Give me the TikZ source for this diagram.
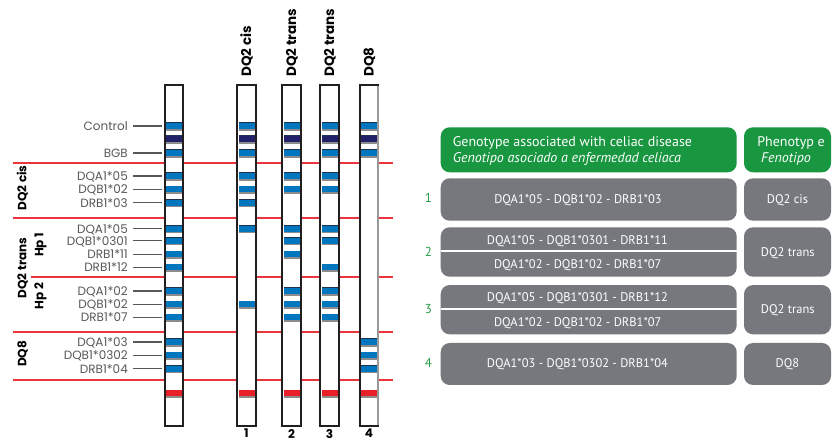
\documentclass[tikz,border=0pt]{standalone}
\usepackage{fontspec}
\setmainfont{Poppins}
\newfontfamily\boxfont{PT Sans}
\definecolor{bandblue}{RGB}{0,118,190}
\definecolor{bandnavy}{RGB}{34,32,104}
\definecolor{bandred}{RGB}{232,32,40}
\definecolor{bandedge}{RGB}{140,140,140}
\definecolor{bandtop}{RGB}{30,50,80}
\definecolor{sepred}{RGB}{236,52,62}
\definecolor{labgray}{RGB}{88,88,88}
\definecolor{headgreen}{RGB}{24,150,64}
\definecolor{numgreen}{RGB}{40,158,72}
\definecolor{boxgray}{RGB}{118,120,126}
\definecolor{stripline}{RGB}{35,31,32}
\tikzset{
  pics/band/.style={code={
    \fill[bandedge] (-8,-3.7) rectangle (8,4.6);
    \fill[bandtop] (-8,-3.7) rectangle (8,-2.6);
    \fill[#1] (-8,-2.8) rectangle (8,3.2);
  }},
  stripbody/.style={fill=white, draw=none, minimum width=18pt, minimum height=341pt, inner sep=0},
  stripframe/.style={draw=stripline, line width=2pt},
  lbl/.style={anchor=east, inner sep=0, text height=9pt, text depth=0pt,
    text=labgray, font=\fontsize{12}{14}\selectfont},
  leader/.style={draw=labgray, line width=1.1pt},
  sep/.style={draw=sepred, line width=1.5pt},
  colhead/.style={anchor=west, rotate=90, inner sep=0, text height=9pt, text depth=0pt,
    font=\fontsize{13.5}{15}\selectfont\bfseries, text=black},
  grouphead/.style={anchor=center, rotate=90, inner sep=0, text height=8.5pt, text depth=0pt,
    font=\fontsize{12}{13}\selectfont\bfseries, text=black},
  lanenum/.style={anchor=north, inner sep=0, font=\fontsize{12}{14}\selectfont\bfseries},
  greenbox/.style={fill=headgreen, rounded corners=9pt, inner sep=0},
  graybox/.style={fill=boxgray, rounded corners=9pt, inner sep=0},
  boxtxt/.style={inner sep=0, text height=9pt, text depth=0pt, text=white,
    font=\boxfont\fontsize{12.5}{15}\selectfont},
  headtxt/.style={inner sep=0, text=white, font=\boxfont\fontsize{14}{16}\selectfont},
  rownum/.style={inner sep=0, text height=9pt, text depth=0pt, text=numgreen,
    font=\boxfont\fontsize{13}{15}\selectfont},
  splitline/.style={draw=white, line width=2pt},
}
\begin{document}
\begin{tikzpicture}[x=1pt,y=-1pt]
\clip (0,0) rectangle (833,443);
\fill[white] (0,0) rectangle (833,443);

% red separators between the allele groups (they pass behind the strips)
\coordinate (sepA1) at (13,163);  \coordinate (sepB1) at (393,163);
\coordinate (sepA2) at (13,218);  \coordinate (sepB2) at (393,218);
\coordinate (sepA3) at (31,277);  \coordinate (sepB3) at (393,277);
\coordinate (sepA4) at (13,332);  \coordinate (sepB4) at (393,332);
\coordinate (sepA5) at (13,380);  \coordinate (sepB5) at (393,380);
\draw[sep] (sepA1) -- (sepB1);
\draw[sep] (sepA2) -- (sepB2);
\draw[sep] (sepA3) -- (sepB3);
\draw[sep] (sepA4) -- (sepB4);
\draw[sep] (sepA5) -- (sepB5);

% strips: name / left edge / blue bands
\foreach \n/\x/\blues in {
  ref/165/{126,153,176,189.3,202.7,228.7,240.7,254.3,267.3,291,304.3,317.3,342,355.3,368.7},
  s1/237.5/{126,153,176,189.3,202.7,228.7,304.3},
  s2/282.5/{126,153,176,189.3,228.7,240.7,254.3,291,304.3,317.3},
  s3/320.5/{126,153,176,189.3,228.7,240.7,267.3,291,304.3,317.3},
  s4/360/{126,153,342,355.3,368.7}} {
  \node[stripbody] (strip-\n) at (\x+9,255.5) {};
  \foreach \y in \blues { \pic at (\x+9,\y) {band=bandblue}; }
  \pic at (\x+9,139) {band=bandnavy};
  \pic at (\x+9,393.3) {band=bandred};
  \draw[stripframe] (strip-\n.north west) rectangle (strip-\n.south east);
}
% the last strip has a lighter right edge
\draw[draw=black!40, line width=2pt] ([yshift=-1pt]strip-s4.north east) -- ([yshift=1pt]strip-s4.south east);

% probe labels with leaders to the reference strip
\foreach \t/\y [count=\i] in {Control/126, BGB/153,
  DQA1*05/176, DQB1*02/189.3, DRB1*03/202.7,
  DQA1*05/228.7, DQB1*0301/240.7, DRB1*11/254.3, DRB1*12/267.3,
  DQA1*02/291, DQB1*02/304.3, DRB1*07/317.3,
  DQA1*03/342, DQB1*0302/355.3, DRB1*04/368.7} {
  \node[lbl] (lab-\i) at (128,\y) {\t};
  \coordinate (lend-\i) at (162,\y);
  \draw[leader] ([xshift=5pt]lab-\i.east) -- (lend-\i);
}

% group titles on the left
\node[grouphead] (g-cis) at (22,188) {DQ2 cis};
\node[grouphead] (g-trans) at (22,268) {DQ2 trans};
\node[grouphead] (g-hp1) at (39,245) {Hp 1};
\node[grouphead] (g-hp2) at (39,296) {Hp 2};
\node[grouphead] (g-dq8) at (22,354) {DQ8};

% lane titles and numbers
\node[colhead] (h1) at (strip-s1.north |- 0,77) {DQ2 cis};
\node[colhead] (h2) at (strip-s2.north |- 0,77) {DQ2 trans};
\node[colhead] (h3) at (strip-s3.north |- 0,77) {DQ2 trans};
\node[colhead] (h4) at (strip-s4.north |- 0,77) {DQ8};
\node[lanenum] (n1) at (strip-s1.south |- 0,429) {1};
\node[lanenum] (n2) at (strip-s2.south |- 0,429) {2};
\node[lanenum] (n3) at (strip-s3.south |- 0,429) {3};
\node[lanenum] (n4) at (strip-s4.south |- 0,429) {4};

% table: header
\node[greenbox, minimum width=296pt, minimum height=45pt] (th-geno) at (588.7,149.8) {};
\node[greenbox, minimum width=87pt, minimum height=45pt] (th-pheno) at (787.5,149.8) {};
\node[headtxt, anchor=base west] (th-geno-en) at (452.7,146.5) {Genotype associated with celiac disease};
\node[headtxt, anchor=base west] (th-geno-es) at (452.7,163) {\itshape Genotipo asociado a enfermedad celiaca};
\node[headtxt, anchor=base] (th-pheno-en) at (791,146.5) {Phenotyp e};
\node[headtxt, anchor=base] (th-pheno-es) at (786,163) {\itshape Fenotipo};

% table: rows
\node[graybox, minimum width=296pt, minimum height=42.4pt] (r1) at (588.7,199.5) {};
\node[graybox, minimum width=87pt, minimum height=42.4pt] (p1) at (787.5,199.5) {};
\node[graybox, minimum width=296pt, minimum height=49.4pt] (r2) at (588.7,252) {};
\node[graybox, minimum width=87pt, minimum height=49.4pt] (p2) at (787.5,252) {};
\node[graybox, minimum width=296pt, minimum height=49.3pt] (r3) at (588.7,309.7) {};
\node[graybox, minimum width=87pt, minimum height=49.3pt] (p3) at (787.5,309.7) {};
\node[graybox, minimum width=296pt, minimum height=42pt] (r4) at (588.7,364) {};
\node[graybox, minimum width=87pt, minimum height=42pt] (p4) at (787.5,364) {};

\coordinate (cut2) at (0,250.7);
\coordinate (cut3) at (0,308.7);
\draw[splitline] (r2.west |- cut2) -- (r2.east |- cut2);
\draw[splitline] (r3.west |- cut3) -- (r3.east |- cut3);

\node[rownum] (k1) at (428.3,198.5) {1};
\node[rownum] (k2) at (428.3,251.7) {2};
\node[rownum] (k3) at (428.3,309.3) {3};
\node[rownum] (k4) at (428.3,363.3) {4};

\node[boxtxt] (t1) at (578,199) {DQA1*05 - DQB1*02 - DRB1*03};
\node[boxtxt] (t2a) at (577.5,240) {DQA1*05 - DQB1*0301 - DRB1*11};
\node[boxtxt] (t2b) at (577.8,264) {DQA1*02 - DQB1*02 - DRB1*07};
\node[boxtxt] (t3a) at (577.5,297.3) {DQA1*05 - DQB1*0301 - DRB1*12};
\node[boxtxt] (t3b) at (577.8,321.7) {DQA1*02 - DQB1*02 - DRB1*07};
\node[boxtxt] (t4) at (577.5,363.3) {DQA1*03 - DQB1*0302 - DRB1*04};

\node[boxtxt] (q1) at (787.5,199) {DQ2 cis};
\node[boxtxt] (q2) at (787.8,252) {DQ2 trans};
\node[boxtxt] (q3) at (787.8,309.5) {DQ2 trans};
\node[boxtxt] (q4) at (787.5,363.3) {DQ8};
\end{tikzpicture}
\end{document}
